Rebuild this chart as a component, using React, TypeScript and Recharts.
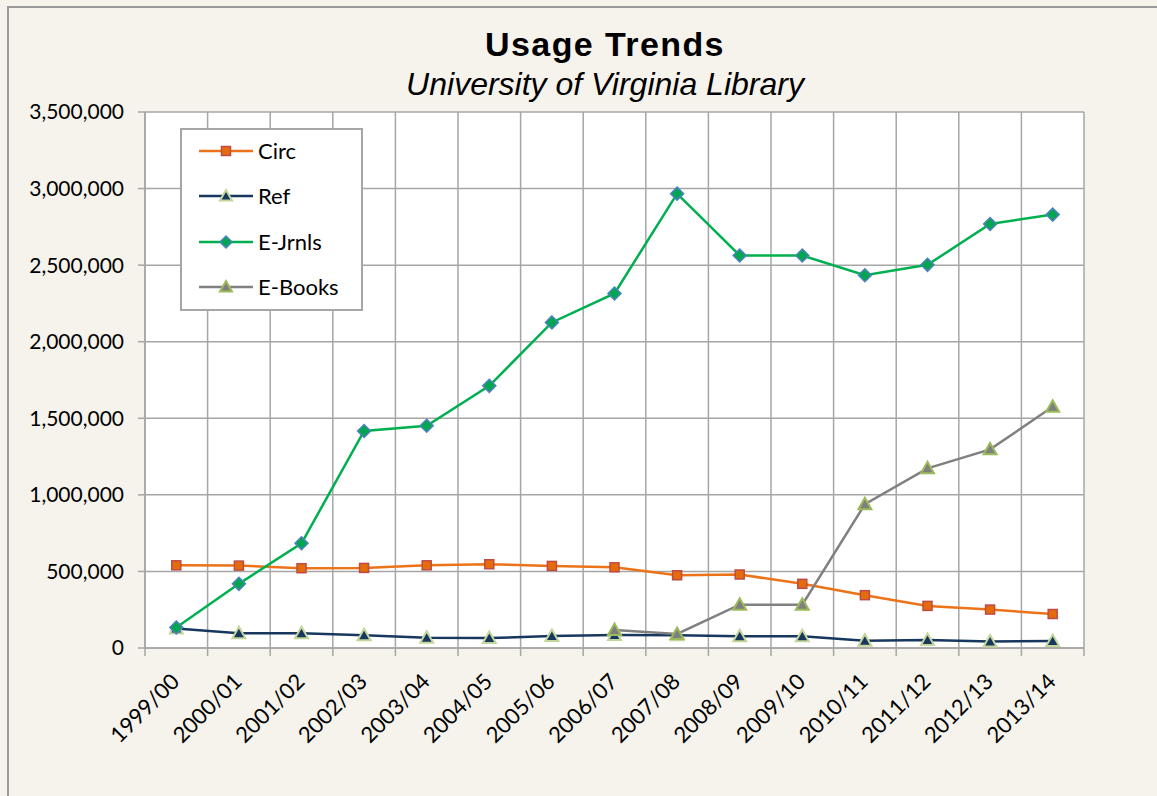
import { CartesianGrid, Line, LineChart, XAxis, YAxis } from 'recharts';

const categories = [
  '1999/00', '2000/01', '2001/02', '2002/03', '2003/04', '2004/05', '2005/06', '2006/07',
  '2007/08', '2008/09', '2009/10', '2010/11', '2011/12', '2012/13', '2013/14',
];
const circ = [540000, 538000, 521000, 523000, 540000, 547000, 536000, 527000, 475000, 480000, 419000, 345000, 275000, 251000, 222000];
const ref = [128000, 96000, 96000, 83000, 67000, 65000, 78000, 85000, 83000, 76000, 76000, 48000, 52000, 43000, 45000];
const eJrnls = [134000, 419000, 684000, 1417000, 1451000, 1712000, 2126000, 2315000, 2967000, 2563000, 2563000, 2434000, 2502000, 2769000, 2830000];
const eBooks = [null, null, null, null, null, null, null, 118000, 92000, 283000, 283000, 939000, 1173000, 1297000, 1575000];
const yTicks = [0, 500000, 1000000, 1500000, 2000000, 2500000, 3000000, 3500000];

// x runs 0..15, each period sits in the middle of its slot
const data = categories.map((period, i) => ({
  x: i + 0.5,
  period,
  circ: circ[i],
  ref: ref[i],
  eJrnls: eJrnls[i],
  eBooks: eBooks[i],
}));
const xTicks = Array.from({ length: categories.length * 2 + 1 }, (_, i) => i / 2);

const FONT = 'Lato, "Open Sans", sans-serif';
const GRID = '#a6a6a6';

function XTick({ x, y, payload }: any) {
  const v = payload.value;
  if (Number.isInteger(v)) {
    return <line x1={x} x2={x} y1={y} y2={y + 8} stroke={GRID} strokeWidth={1.5} />;
  }
  const ax = x + 4.5;
  const ay = y + 35;
  return (
    <text x={ax} y={ay} textAnchor="end" transform={`rotate(-45 ${ax} ${ay})`} fontFamily={FONT} fontSize={22} fill="#000">
      {categories[Math.floor(v)]}
    </text>
  );
}

const square = (fill: string, stroke: string) => (p: any) =>
  p.cy == null ? <g key={p.key} /> : (
    <rect key={p.key} x={p.cx - 4.5} y={p.cy - 4.5} width={9} height={9} fill={fill} stroke={stroke} strokeWidth={1.5} />
  );
const triangle = (fill: string, stroke: string) => (p: any) =>
  p.cy == null ? <g key={p.key} /> : (
    <polygon key={p.key} points={`${p.cx},${p.cy - 6.5} ${p.cx + 6.5},${p.cy + 5} ${p.cx - 6.5},${p.cy + 5}`} fill={fill} stroke={stroke} strokeWidth={2} />
  );
const diamond = (fill: string, stroke: string) => (p: any) =>
  p.cy == null ? <g key={p.key} /> : (
    <polygon key={p.key} points={`${p.cx},${p.cy - 6.5} ${p.cx + 6.5},${p.cy} ${p.cx},${p.cy + 6.5} ${p.cx - 6.5},${p.cy}`} fill={fill} stroke={stroke} strokeWidth={1.5} />
  );

const series = [
  { key: 'circ', name: 'Circ', color: '#ec7318', dot: square('#e46c0a', '#be4b48'), marker: 'square', mFill: '#e46c0a', mStroke: '#be4b48' },
  { key: 'ref', name: 'Ref', color: '#17375e', dot: triangle('#17375e', '#c3d69b'), marker: 'triangle', mFill: '#17375e', mStroke: '#c3d69b' },
  { key: 'eJrnls', name: 'E-Jrnls', color: '#00b050', dot: diamond('#00a650', '#4f81bd'), marker: 'diamond', mFill: '#00a650', mStroke: '#4f81bd' },
  { key: 'eBooks', name: 'E-Books', color: '#808080', dot: triangle('#7f7f7f', '#9bbb59'), marker: 'triangle', mFill: '#7f7f7f', mStroke: '#9bbb59' },
];

function LegendMarker({ s }: { s: (typeof series)[number] }) {
  return (
    <svg width={56} height={18} style={{ display: 'block' }}>
      <line x1={0} x2={54} y1={9} y2={9} stroke={s.color} strokeWidth={2.5} />
      {s.marker === 'square' && <rect x={22.5} y={4.5} width={9} height={9} fill={s.mFill} stroke={s.mStroke} strokeWidth={1.5} />}
      {s.marker === 'triangle' && <polygon points="27,3 33,13.5 21,13.5" fill={s.mFill} stroke={s.mStroke} strokeWidth={2} />}
      {s.marker === 'diamond' && <polygon points="27,3 33,9 27,15 21,9" fill={s.mFill} stroke={s.mStroke} strokeWidth={1.5} />}
    </svg>
  );
}

export default function App() {
  return (
    <div style={{ position: 'absolute', left: 0, top: 0, width: 1157, height: 796, background: '#f5f3ec', overflow: 'hidden' }}>
      <div style={{ position: 'absolute', left: 7, top: 6, width: 1200, height: 900, borderLeft: '2px solid #9a9a9a', borderTop: '2px solid #9a9a9a' }} />
      <div style={{ position: 'absolute', left: 355, top: 27, width: 500, textAlign: 'center', fontFamily: '"Liberation Sans", Arial, sans-serif', fontWeight: 'bold', fontSize: 34, lineHeight: '34px', letterSpacing: 1.4, color: '#000' }}>
        Usage Trends
      </div>
      <div style={{ position: 'absolute', left: 355, top: 68, width: 500, textAlign: 'center', fontFamily: '"Liberation Sans", Arial, sans-serif', fontStyle: 'italic', fontSize: 32, lineHeight: '32px', color: '#000' }}>
        University of Virginia Library
      </div>
      <div style={{ position: 'absolute', left: 0, top: 0 }}>
        <LineChart width={1157} height={796} data={data} margin={{ top: 112, right: 73, bottom: 0, left: 0 }}>
          <CartesianGrid
            fill="#fff"
            stroke={GRID}
            strokeWidth={1.5}
            verticalCoordinatesGenerator={({ offset }: any) =>
              Array.from({ length: categories.length + 1 }, (_, i) => offset.left + (offset.width * i) / categories.length)
            }
          />
          <XAxis
            type="number"
            dataKey="x"
            domain={[0, categories.length]}
            ticks={xTicks}
            interval={0}
            height={148}
            tickSize={0}
            tickMargin={0}
            tickLine={false}
            axisLine={{ stroke: GRID, strokeWidth: 1.5 }}
            tick={<XTick />}
          />
          <YAxis
            domain={[0, 3500000]}
            ticks={yTicks}
            interval={0}
            width={145}
            tickSize={7}
            tickMargin={14}
            tickLine={{ stroke: GRID, strokeWidth: 1.5 }}
            axisLine={{ stroke: GRID, strokeWidth: 1.5 }}
            tick={{ fontFamily: FONT, fontSize: 21, fill: '#000' }}
            tickFormatter={(v: number) => v.toLocaleString('en-US')}
          />
          {series.map((s) => (
            <Line
              key={s.key}
              dataKey={s.key}
              name={s.name}
              type="linear"
              stroke={s.color}
              strokeWidth={2.5}
              dot={s.dot}
              activeDot={false}
              isAnimationActive={false}
            />
          ))}
        </LineChart>
      </div>
      <div style={{ position: 'absolute', left: 180, top: 128, width: 183, height: 183, boxSizing: 'border-box', border: `2px solid ${GRID}`, background: '#fff' }}>
        {series.map((s, i) => (
          <div key={s.key} style={{ position: 'absolute', left: 17, top: 21 + i * 45.3 - 11, height: 22, display: 'flex', alignItems: 'center' }}>
            <LegendMarker s={s} />
            <span style={{ marginLeft: 3, fontFamily: FONT, fontSize: 22, lineHeight: '22px', color: '#000' }}>{s.name}</span>
          </div>
        ))}
      </div>
    </div>
  );
}
